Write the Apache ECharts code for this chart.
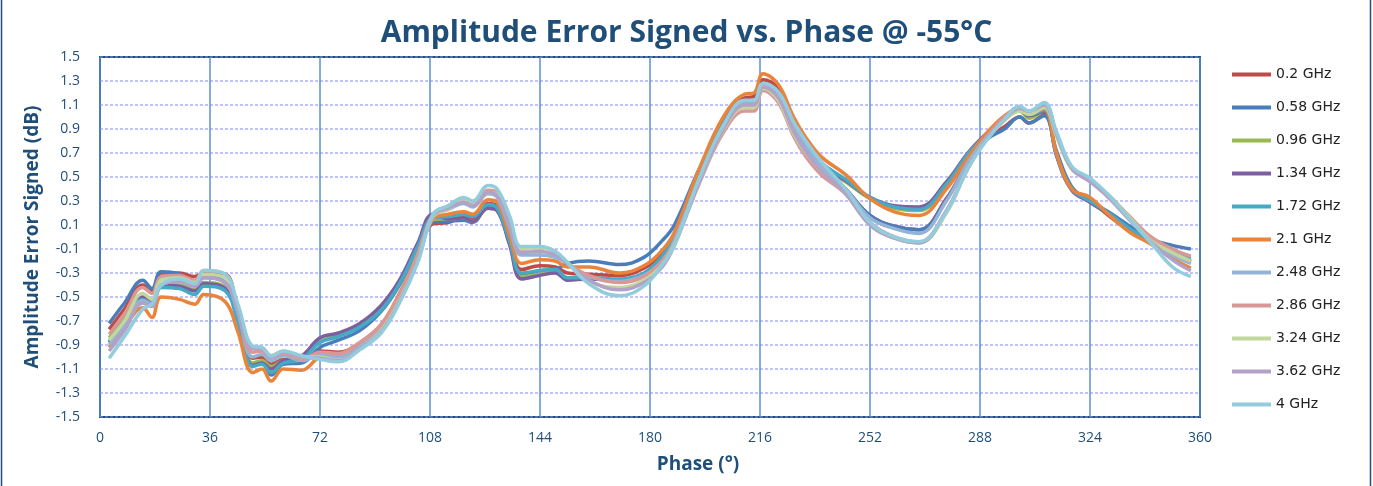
<!DOCTYPE html>
<html>
<head>
<meta charset="utf-8">
<script src="https://cdn.jsdelivr.net/npm/echarts@6/dist/echarts.min.js"></script>
<style>
  html, body { margin: 0; padding: 0; background: #fff; }
  #chart { width: 1373px; height: 486px; }
</style>
</head>
<body>
<div id="chart"></div>
<script>
  // phase points (deg)
  var phase = [3, 8, 14, 17, 20, 26, 31, 34, 41, 45, 50, 53, 56, 60, 66, 72, 78, 85, 92, 98,
    104, 109, 114, 119, 122, 127, 130, 134, 138, 144, 149, 153, 160, 170, 178, 184, 188, 196, 204, 211,
    214, 217, 222, 227, 231, 236, 244, 252, 260, 268, 277, 284, 290, 296, 301, 304, 309, 313, 318, 324,
    330, 337, 344, 351, 357];

  var names = ["0.2 GHz", "0.58 GHz", "0.96 GHz", "1.34 GHz", "1.72 GHz", "2.1 GHz",
    "2.48 GHz", "2.86 GHz", "3.24 GHz", "3.62 GHz", "4 GHz"];
  var colors = ["#BE4B48", "#4A7EBB", "#98B954", "#7D5FA0", "#46AAC5", "#E9843C",
    "#95B3D7", "#D99795", "#C3D69B", "#B2A2C7", "#93CDDD"];

  var f0_2 = [-0.77, -0.60, -0.40, -0.45, -0.30, -0.30, -0.33, -0.30, -0.31, -0.62, -1.01, -1.00, -1.06, -1.02, -1.03, -0.95, -0.96, -0.89, -0.75, -0.50,
    -0.17, 0.11, 0.12, 0.17, 0.15, 0.28, 0.26, -0.01, -0.27, -0.24, -0.25, -0.30, -0.31, -0.32, -0.26, -0.13, 0.02, 0.52, 0.96, 1.16,
    1.17, 1.31, 1.24, 0.95, 0.78, 0.60, 0.40, 0.18, 0.09, 0.06, 0.32, 0.62, 0.82, 0.92, 1.00, 0.95, 1.02, 0.70, 0.40, 0.31,
    0.18, 0.05, -0.04, -0.13, -0.20];
  var f0_58 = [-0.72, -0.55, -0.36, -0.43, -0.29, -0.31, -0.38, -0.33, -0.38, -0.66, -1.07, -1.05, -1.15, -1.06, -1.05, -0.92, -0.86, -0.78, -0.62, -0.40,
    -0.10, 0.12, 0.13, 0.14, 0.12, 0.26, 0.23, -0.03, -0.32, -0.28, -0.27, -0.22, -0.20, -0.23, -0.17, -0.03, 0.10, 0.56, 0.95, 1.11,
    1.11, 1.26, 1.17, 0.92, 0.75, 0.59, 0.40, 0.18, 0.09, 0.06, 0.31, 0.62, 0.81, 0.90, 1.00, 0.95, 1.01, 0.72, 0.42, 0.30,
    0.21, 0.09, -0.02, -0.07, -0.10];
  var f0_96 = [-0.84, -0.68, -0.50, -0.54, -0.40, -0.40, -0.44, -0.38, -0.42, -0.68, -1.05, -1.03, -1.08, -1.03, -1.01, -0.87, -0.82, -0.74, -0.59, -0.38,
    -0.07, 0.15, 0.15, 0.16, 0.13, 0.24, 0.22, -0.05, -0.33, -0.31, -0.29, -0.34, -0.34, -0.36, -0.31, -0.18, -0.02, 0.49, 0.93, 1.11,
    1.11, 1.25, 1.16, 0.90, 0.74, 0.59, 0.46, 0.32, 0.24, 0.22, 0.43, 0.68, 0.85, 0.99, 1.05, 0.99, 1.05, 0.69, 0.40, 0.29,
    0.19, 0.06, -0.04, -0.13, -0.20];
  var f1_34 = [-0.88, -0.72, -0.50, -0.55, -0.40, -0.41, -0.45, -0.39, -0.43, -0.68, -1.07, -1.05, -1.10, -1.03, -0.99, -0.84, -0.80, -0.72, -0.57, -0.36,
    -0.05, 0.19, 0.15, 0.16, 0.13, 0.24, 0.22, -0.06, -0.35, -0.32, -0.30, -0.36, -0.35, -0.36, -0.31, -0.19, -0.03, 0.47, 0.92, 1.11,
    1.11, 1.26, 1.17, 0.91, 0.75, 0.60, 0.47, 0.33, 0.26, 0.25, 0.46, 0.70, 0.86, 0.99, 1.06, 1.01, 1.05, 0.68, 0.39, 0.29,
    0.19, 0.06, -0.04, -0.14, -0.21];
  var f1_72 = [-0.87, -0.70, -0.52, -0.56, -0.42, -0.43, -0.48, -0.41, -0.45, -0.70, -1.08, -1.06, -1.13, -1.05, -1.02, -0.88, -0.83, -0.75, -0.61, -0.39,
    -0.08, 0.16, 0.17, 0.19, 0.17, 0.27, 0.24, -0.03, -0.30, -0.28, -0.27, -0.34, -0.34, -0.35, -0.30, -0.16, 0.00, 0.50, 0.94, 1.12,
    1.12, 1.27, 1.19, 0.93, 0.77, 0.62, 0.48, 0.33, 0.25, 0.23, 0.44, 0.69, 0.85, 1.00, 1.06, 1.02, 1.06, 0.69, 0.40, 0.30,
    0.20, 0.07, -0.03, -0.12, -0.18];
  var f2_1 = [-0.92, -0.75, -0.59, -0.67, -0.50, -0.52, -0.56, -0.48, -0.54, -0.78, -1.13, -1.10, -1.20, -1.10, -1.11, -1.00, -0.98, -0.88, -0.73, -0.47,
    -0.15, 0.15, 0.19, 0.21, 0.19, 0.31, 0.29, 0.02, -0.22, -0.19, -0.20, -0.25, -0.25, -0.30, -0.24, -0.11, 0.04, 0.56, 1.00, 1.19,
    1.20, 1.36, 1.27, 1.00, 0.83, 0.67, 0.52, 0.32, 0.21, 0.18, 0.40, 0.66, 0.86, 1.01, 1.07, 1.03, 1.07, 0.70, 0.40, 0.33,
    0.19, 0.04, -0.06, -0.18, -0.26];
  var f2_48 = [-0.90, -0.73, -0.53, -0.56, -0.40, -0.37, -0.41, -0.34, -0.38, -0.62, -1.00, -0.98, -1.03, -0.99, -1.03, -0.98, -1.00, -0.91, -0.76, -0.51,
    -0.17, 0.18, 0.23, 0.28, 0.25, 0.36, 0.33, 0.08, -0.15, -0.15, -0.17, -0.22, -0.33, -0.37, -0.32, -0.20, -0.03, 0.48, 0.92, 1.12,
    1.12, 1.27, 1.19, 0.93, 0.76, 0.59, 0.40, 0.16, 0.07, 0.03, 0.30, 0.62, 0.83, 0.98, 1.07, 1.04, 1.10, 0.86, 0.57, 0.48,
    0.35, 0.15, -0.03, -0.15, -0.22];
  var f2_86 = [-0.81, -0.64, -0.42, -0.47, -0.33, -0.32, -0.36, -0.28, -0.31, -0.58, -0.96, -0.95, -1.00, -0.97, -1.02, -0.96, -0.97, -0.88, -0.73, -0.48,
    -0.14, 0.19, 0.26, 0.32, 0.29, 0.39, 0.37, 0.13, -0.10, -0.09, -0.12, -0.22, -0.32, -0.38, -0.33, -0.20, -0.05, 0.44, 0.87, 1.05,
    1.05, 1.22, 1.12, 0.84, 0.67, 0.52, 0.36, 0.12, 0.00, -0.04, 0.22, 0.57, 0.82, 1.00, 1.07, 1.05, 1.10, 0.86, 0.57, 0.47,
    0.35, 0.17, 0.00, -0.10, -0.16];
  var f3_24 = [-0.86, -0.70, -0.47, -0.52, -0.36, -0.34, -0.38, -0.31, -0.34, -0.58, -0.91, -0.92, -0.99, -0.95, -1.00, -1.00, -1.03, -0.93, -0.78, -0.53,
    -0.20, 0.17, 0.23, 0.30, 0.27, 0.37, 0.35, 0.12, -0.10, -0.09, -0.13, -0.22, -0.37, -0.42, -0.36, -0.23, -0.06, 0.45, 0.89, 1.08,
    1.08, 1.24, 1.14, 0.86, 0.70, 0.55, 0.36, 0.10, -0.01, -0.05, 0.20, 0.57, 0.81, 0.97, 1.05, 1.02, 1.08, 0.84, 0.57, 0.48,
    0.35, 0.16, -0.03, -0.13, -0.20];
  var f3_62 = [-0.95, -0.78, -0.55, -0.58, -0.40, -0.37, -0.41, -0.34, -0.38, -0.60, -0.93, -0.93, -1.00, -0.96, -1.00, -1.01, -1.03, -0.93, -0.79, -0.54,
    -0.20, 0.18, 0.24, 0.29, 0.26, 0.37, 0.34, 0.10, -0.13, -0.12, -0.15, -0.22, -0.36, -0.44, -0.38, -0.25, -0.07, 0.45, 0.90, 1.10,
    1.10, 1.25, 1.16, 0.88, 0.71, 0.55, 0.36, 0.10, -0.01, -0.05, 0.22, 0.57, 0.81, 0.98, 1.07, 1.05, 1.10, 0.86, 0.57, 0.46,
    0.33, 0.14, -0.04, -0.19, -0.28];
  var f4 = [-1.01, -0.83, -0.60, -0.56, -0.40, -0.35, -0.39, -0.28, -0.31, -0.55, -0.91, -0.92, -0.99, -0.95, -0.99, -1.02, -1.04, -0.94, -0.80, -0.55,
    -0.21, 0.19, 0.26, 0.33, 0.30, 0.43, 0.40, 0.18, -0.08, -0.08, -0.12, -0.21, -0.39, -0.49, -0.41, -0.23, -0.07, 0.48, 0.93, 1.14,
    1.14, 1.28, 1.21, 0.96, 0.80, 0.63, 0.40, 0.12, 0.00, -0.04, 0.21, 0.57, 0.80, 0.98, 1.09, 1.05, 1.12, 0.88, 0.59, 0.49,
    0.35, 0.15, -0.05, -0.25, -0.33];

  var values = [f0_2, f0_58, f0_96, f1_34, f1_72, f2_1, f2_48, f2_86, f3_24, f3_62, f4];

  var navy = "#1F4E79";
  var narrow = "'Liberation Sans Narrow', 'Open Sans', sans-serif";
  var sans = "'Open Sans', sans-serif";

  var chart = echarts.init(document.getElementById("chart"));

  var series = values.map(function (arr, i) {
    return {
      name: names[i],
      type: "line",
      smooth: 0.4,
      symbol: "none",
      lineStyle: { width: 3.5, color: colors[i] },
      itemStyle: { color: colors[i] },
      data: phase.map(function (p, k) { return [p, arr[k]]; })
    };
  });

  chart.setOption({
    animation: false,
    title: {
      text: "Amplitude Error Signed vs. Phase @ -55°C",
      left: "center",
      top: 13,
      textStyle: { color: navy, fontSize: 30, fontWeight: "bold", fontFamily: sans }
    },
    graphic: [{
      type: "rect",
      shape: { x: 1.5, y: -10, width: 1369, height: 510, r: 4 },
      style: { fill: "none", stroke: navy, lineWidth: 1.5 }
    }],
    legend: {
      orient: "vertical",
      left: 1227,
      top: 62,
      itemWidth: 39,
      itemHeight: 4,
      itemGap: 18,
      icon: "rect",
      textStyle: { color: "#222", fontSize: 14, lineHeight: 15, fontFamily: "'DejaVu Sans', sans-serif" },
      data: names
    },
    grid: {
      left: 100, right: 173, top: 57, bottom: 69,
      show: true,
      borderColor: navy,
      borderWidth: 2
    },
    xAxis: {
      type: "value",
      min: 0, max: 360, interval: 36,
      name: "Phase (°)",
      nameLocation: "middle",
      nameGap: 38,
      nameTextStyle: { color: navy, fontSize: 19, fontWeight: "bold", fontFamily: sans, padding: [0, 0, 0, 96] },
      axisLine: { show: false },
      axisTick: { show: false },
      axisLabel: { color: navy, fontSize: 14, margin: 14, fontFamily: narrow },
      splitLine: { show: true, lineStyle: { color: "#5B8ED6", width: 1.5 } }
    },
    yAxis: {
      type: "value",
      min: -1.5, max: 1.5, interval: 0.2,
      name: "Amplitude Error Signed (dB)",
      nameLocation: "middle",
      nameGap: 58,
      nameTextStyle: { color: navy, fontSize: 19, fontWeight: "bold", fontFamily: sans },
      axisLine: { show: false },
      axisTick: { show: false },
      axisLabel: {
        color: navy, fontSize: 14, margin: 20, fontFamily: sans,
        formatter: function (v) { return v.toFixed(1); }
      },
      splitLine: { show: true, lineStyle: { color: "#8C8CF6", width: 1.5, type: [3, 2], opacity: 0.7 } }
    },
    series: series
  });
</script>
</body>
</html>
